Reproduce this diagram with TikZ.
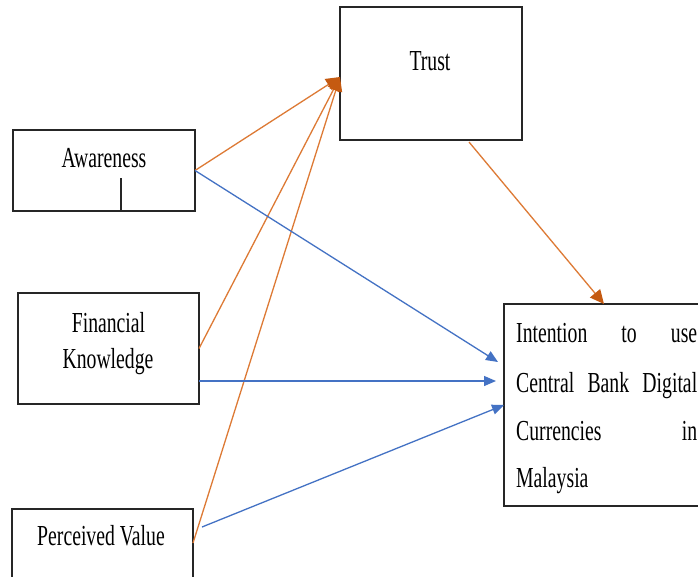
\documentclass[tikz,border=0pt]{standalone}
\usepackage{fontspec}
\setmainfont{Liberation Serif}[FakeStretch=0.68]
\usetikzlibrary{arrows.meta,calc}
\definecolor{orng}{HTML}{DD7A35}
\definecolor{orngd}{HTML}{C55A11}
\definecolor{blu}{HTML}{4472C4}
\begin{document}
\begin{tikzpicture}[x=1pt,y=-1pt,
  box/.style={draw=black!85,line width=1.3pt,rectangle,inner sep=0pt,outer sep=0pt},
  lbl/.style={inner sep=0pt,anchor=base,font=\fontsize{29}{29}\selectfont},
  toT/.style={draw=orng,line width=1.3pt,-{Triangle[length=14pt,width=13pt,color=orngd]}},
  toI/.style={draw=blu,line width=1.3pt,-{Triangle[length=12pt,width=10pt]}}]
\clip (0,0) rectangle (698,576);
\fill[white] (0,0) rectangle (698,576);
% boxes
\node[box,minimum width=182pt,minimum height=133pt] (trust) at (431,73.5) {};
\node[box,minimum width=182pt,minimum height=81pt] (aw) at (104,170.5) {};
\node[box,minimum width=181pt,minimum height=111pt] (fk) at (108.5,348.5) {};
\node[box,minimum width=181pt,minimum height=100pt] (pv) at (102.5,559) {};
\node[box,minimum width=216pt,minimum height=202pt] (int) at (612,405) {};
% inner line of awareness box
\coordinate (awl) at (121,178);
\draw[black!85,line width=1.2pt] (awl) -- (awl |- aw.south);
% labels
\node[lbl] (tT) at (430,70) {Trust};
\node[lbl] (tA) at (104,167) {Awareness};
\node[lbl] (tF1) at (108.5,332) {Financial};
\node[lbl] (tF2) at (108,368) {Knowledge};
\node[lbl] (tP) at (101,545) {Perceived Value};
\node[lbl,anchor=base west] (tI1) at (516,342) {\makebox[181pt][s]{Intention to use}};
\node[lbl,anchor=base west] (tI2) at (516,392) {\makebox[181pt][s]{Central Bank Digital}};
\node[lbl,anchor=base west] (tI3) at (516,440) {\makebox[181pt][s]{Currencies in}};
\node[lbl,anchor=base west] (tI4) at (516,487) {Malaysia};
% connector points
\coordinate (tin) at (340,77);
\coordinate (awo) at (aw.east);
\coordinate (fko) at (fk.east);
\coordinate (fkb) at (199,381);
\coordinate (pvo) at (193,543);
\coordinate (pvb) at (202,527);
\coordinate (tout) at (469,142);
\coordinate (iin) at (604,304);
\coordinate (iaw) at (498,362);
\coordinate (ifk) at (496,381);
\coordinate (ipv) at (int.west);
% orange arrows
\draw[toT] (awo) -- (tin);
\draw[toT] (fko) -- (tin);
\draw[toT] (pvo) -- (tin);
\draw[toT] (tout) -- (iin);
% blue arrows
\draw[toI] (awo) -- (iaw);
\draw[toI] (fkb) -- (ifk);
\draw[toI] (pvb) -- (ipv);
\end{tikzpicture}
\end{document}
